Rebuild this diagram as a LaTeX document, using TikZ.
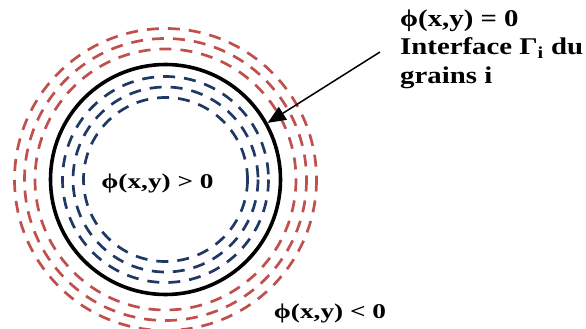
\documentclass[tikz,border=0pt]{standalone}
\usepackage{fontspec}
\setmainfont{Liberation Serif}
\usetikzlibrary{arrows.meta}
\definecolor{ringred}{RGB}{192,80,77}
\definecolor{ringblue}{RGB}{31,56,100}
\tikzset{
  redring/.style={draw=ringred, line width=2.7pt, dash pattern=on 12pt off 9pt},
  bluering/.style={draw=ringblue, line width=2.7pt, dash pattern=on 12pt off 9pt},
  toplbl/.style={font=\bfseries\fontsize{24}{28}\selectfont, inner sep=0pt, anchor=base west, xscale=1.2, transform shape},
  phlbl/.style={font=\bfseries\fontsize{21}{24}\selectfont, inner sep=0pt, anchor=base, xscale=1.3, transform shape},
}
\begin{document}
\begin{tikzpicture}[x=1pt,y=-1pt]
\useasboundingbox (0,0) rectangle (586,329);
\coordinate (c) at (165.5,179.5);
\foreach \r in {151,141,130.5} \draw[redring] (c) circle[radius=\r];
\foreach \r in {103,92.5,82} \draw[bluering] (c) circle[radius=\r];
\node[circle, draw=black, line width=3.6pt, minimum size=230pt, inner sep=0pt] (interface) at (c) {};
\node[toplbl] (lblA) at (400,27) {ϕ(x,y) = 0};
\node[toplbl] (lblB) at (400,55) {Interface Γ\textsubscript{i} du};
\node[toplbl] (lblC) at (400,83) {grains i};
\coordinate (start) at (380,52);
\draw[-{Triangle[length=18pt,width=15pt]}, line width=1.5pt] (start) -- (interface.29);
\node[phlbl] (inside) at (157.5,188) {ϕ(x,y) > 0};
\node[phlbl] (outside) at (330,318) {ϕ(x,y) < 0};
\end{tikzpicture}
\end{document}
